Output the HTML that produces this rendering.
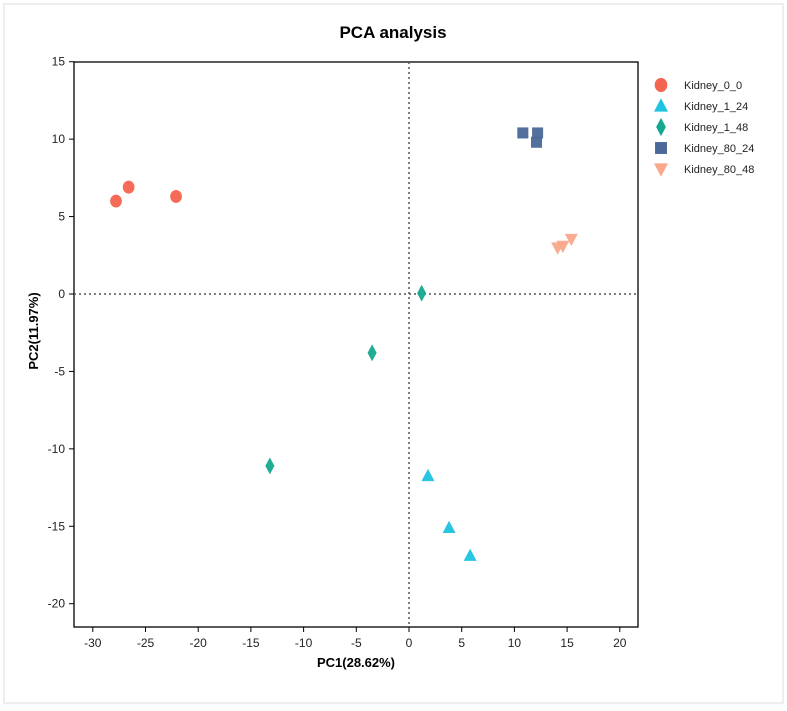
<!DOCTYPE html>
<html><head><meta charset="utf-8"><style>
body{margin:0;background:#fff;font-family:"Liberation Sans",sans-serif;}
</style></head><body>
<svg id="chart" width="787" height="706" xmlns="http://www.w3.org/2000/svg">
<rect x="4" y="4" width="779" height="699" fill="#fff" stroke="#ddd"/>
<text x="393" y="38" text-anchor="middle" font-size="17" font-weight="bold">PCA analysis</text>
<g id="plot"></g>
</svg>
<script>
const groups=["Kidney_0_0","Kidney_1_24","Kidney_1_48","Kidney_80_24","Kidney_80_48"];
const colors=["#f5624f","#1ec3e0","#15a88e","#4a6898","#f9a98a"];
const shapes=["circle","triangle","diamond","square","tri-down"];
const xVals=[[-27.8,-26.6,-22.1],[1.8,3.8,5.8],[1.2,-3.5,-13.2],[10.8,12.2,12.1],[14.1,14.6,15.4]];
const yVals=[[6.0,6.9,6.3],[-11.75,-15.1,-16.9],[0.05,-3.8,-11.1],[10.4,10.4,9.8],[3.0,3.1,3.55]];
const xTicks=[-30,-25,-20,-15,-10,-5,0,5,10,15,20];
const yTicks=[15,10,5,0,-5,-10,-15,-20];
const L=74,R=638,T=62,B=627;
const sx=v=>409+(v)*10.54;
const sy=v=>294-(v)*15.486;
const NS="http://www.w3.org/2000/svg";
const g=document.getElementById('plot');
function mk(tag,a,parent){const e=document.createElementNS(NS,tag);for(const k in a)e.setAttribute(k,a[k]);(parent||g).appendChild(e);return e;}
let fr=mk('rect',{x:L,y:T,width:R-L,height:B-T,fill:'none',stroke:'#000','stroke-width':1.3});


let vl=mk('line',{x1:sx(0),x2:sx(0),y1:T,y2:B,stroke:'#555','stroke-dasharray':'2,3','stroke-width':1.5});


let hl=mk('line',{x1:L,x2:R,y1:sy(0),y2:sy(0),stroke:'#555','stroke-dasharray':'2,3','stroke-width':1.5});


xTicks.forEach(t=>{
  mk('line',{x1:sx(t),x2:sx(t),y1:B,y2:B+5,stroke:'#000'});
  const tx=mk('text',{x:sx(t),y:B+20,'text-anchor':'middle','font-size':12,fill:'#222'});
  tx.textContent=t;
  
  
});
yTicks.forEach(t=>{
  mk('line',{x1:L-5,x2:L,y1:sy(t),y2:sy(t),stroke:'#000'});
  const tx=mk('text',{x:L-9,y:sy(t)+4,'text-anchor':'end','font-size':12,fill:'#222'});
  tx.textContent=t;
  
  
});
let xt=mk('text',{x:356,y:667,'text-anchor':'middle','font-size':13,'font-weight':'bold'});
xt.textContent='PC1(28.62%)';


let yt=mk('text',{x:0,y:0,'text-anchor':'middle','font-size':13,'font-weight':'bold',transform:'translate(38,331) rotate(-90)'});
yt.textContent='PC2(11.97%)';


function marker(shape,x,y,c,s){
  let e;
  if(shape==='circle')e=mk('ellipse',{cx:x,cy:y,rx:s*0.9,ry:s,fill:c});
  else if(shape==='square')e=mk('rect',{x:x-s*0.85,y:y-s*0.85,width:s*1.7,height:s*1.7,fill:c});
  else if(shape==='triangle')e=mk('polygon',{points:`${x},${y-s*1.1} ${x+s},${y+s*0.8} ${x-s},${y+s*0.8}`,fill:c});
  else if(shape==='tri-down')e=mk('polygon',{points:`${x-s},${y-s*0.8} ${x+s},${y-s*0.8} ${x},${y+s*1.1}`,fill:c});
  else e=mk('polygon',{points:`${x},${y-s*1.3} ${x+s*0.7},${y} ${x},${y+s*1.3} ${x-s*0.7},${y}`,fill:c});
  return e;
}
groups.forEach((name,i)=>{
  xVals[i].forEach((xv,j)=>{
    const m=marker(shapes[i],sx(xv),sy(yVals[i][j]),colors[i],6.5);
    m.setAttribute('opacity','0.95');
    
    
  });
  const ly=85+i*21;
  const lm=marker(shapes[i],661,ly,colors[i],7);
  
  
  const lt=mk('text',{x:684,y:ly+4,'font-size':11,fill:'#222'});
  lt.textContent=name;
  
  
});
</script>
</body></html>
